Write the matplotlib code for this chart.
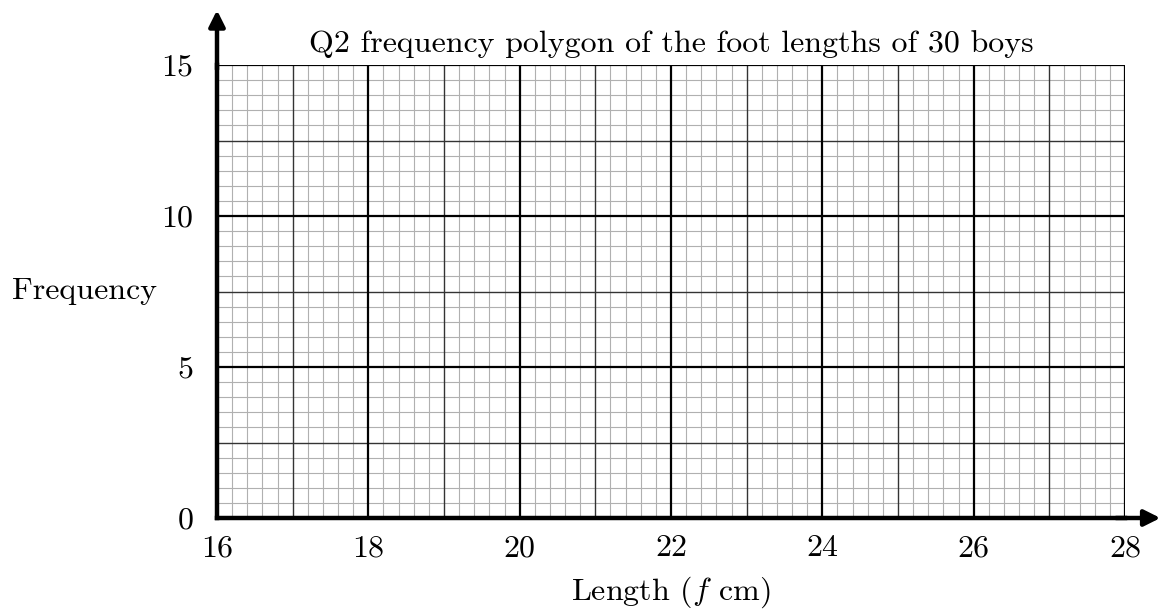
import numpy as np
import matplotlib
matplotlib.use("Agg")
import matplotlib.pyplot as plt

plt.rcParams['font.family'] = 'serif'
plt.rcParams['font.serif'] = ['cmr10', 'DejaVu Serif']
plt.rcParams['mathtext.fontset'] = 'cm'
plt.rcParams['axes.formatter.use_mathtext'] = True

title = "Q2 frequency polygon of the foot lengths of 30 boys"
x_label = "Length ($f$ cm)"
y_label = "Frequency"
x_ticks = [16, 18, 20, 22, 24, 26, 28]
y_ticks = [0, 5, 10, 15]
x_range = [16, 28]
y_range = [0, 15]

FS = 23

fig = plt.figure(figsize=(11.6, 6.12), dpi=100)
ax = fig.add_axes([217/1160, 1-518/612, 908/1160, 453/612])
ax.set_xlim(*x_range)
ax.set_ylim(*y_range)

# grid lines
x_minor = np.arange(x_range[0], x_range[1] + 1e-9, 0.2)
y_minor = np.arange(y_range[0], y_range[1] + 1e-9, 0.5)
for v in x_minor:
    if abs(v - round(v)) < 1e-6:
        iv = int(round(v))
        if iv % 2 == 0:
            ax.axvline(v, color='black', lw=1.6, zorder=3)
        else:
            ax.axvline(v, color='#333333', lw=1.0, zorder=2)
    else:
        ax.axvline(v, color='#b0b0b0', lw=0.8, zorder=1)
for v in y_minor:
    r = v / 2.5
    if abs(r - round(r)) < 1e-6:
        if int(round(r)) % 2 == 0:
            ax.axhline(v, color='black', lw=1.6, zorder=3)
        else:
            ax.axhline(v, color='#333333', lw=1.0, zorder=2)
    else:
        ax.axhline(v, color='#b0b0b0', lw=0.8, zorder=1)

for s in ['top', 'right']:
    ax.spines[s].set_visible(False)
ax.spines['left'].set_linewidth(3.2)
ax.spines['bottom'].set_linewidth(3.2)
ax.spines['left'].set_zorder(5)
ax.spines['bottom'].set_zorder(5)

# axis arrows
ax.annotate('', xy=(1.039, 0), xytext=(0.99, 0), xycoords='axes fraction',
            arrowprops=dict(arrowstyle='-|>', lw=3.2, color='black', mutation_scale=24,
                            shrinkA=0, shrinkB=0), annotation_clip=False)
ax.annotate('', xy=(0, 1.121), xytext=(0, 0.99), xycoords='axes fraction',
            arrowprops=dict(arrowstyle='-|>', lw=3.2, color='black', mutation_scale=24,
                            shrinkA=0, shrinkB=0), annotation_clip=False)

ax.set_xticks(x_ticks)
ax.set_yticks(y_ticks)
ax.set_xticklabels([str(t) for t in x_ticks])
ax.set_yticklabels([str(t) for t in y_ticks])
ax.tick_params(axis='both', length=0, labelsize=FS)
ax.tick_params(axis='x', pad=12)
ax.tick_params(axis='y', pad=17)

ax.set_title(title, fontsize=FS, pad=9)
ax.set_xlabel(x_label, fontsize=FS, labelpad=9)
ax.set_ylabel(y_label, fontsize=FS, rotation=0, ha='center', va='center')
ax.yaxis.set_label_coords(-0.146, 0.5)

fig.savefig("out.png", dpi=100)
